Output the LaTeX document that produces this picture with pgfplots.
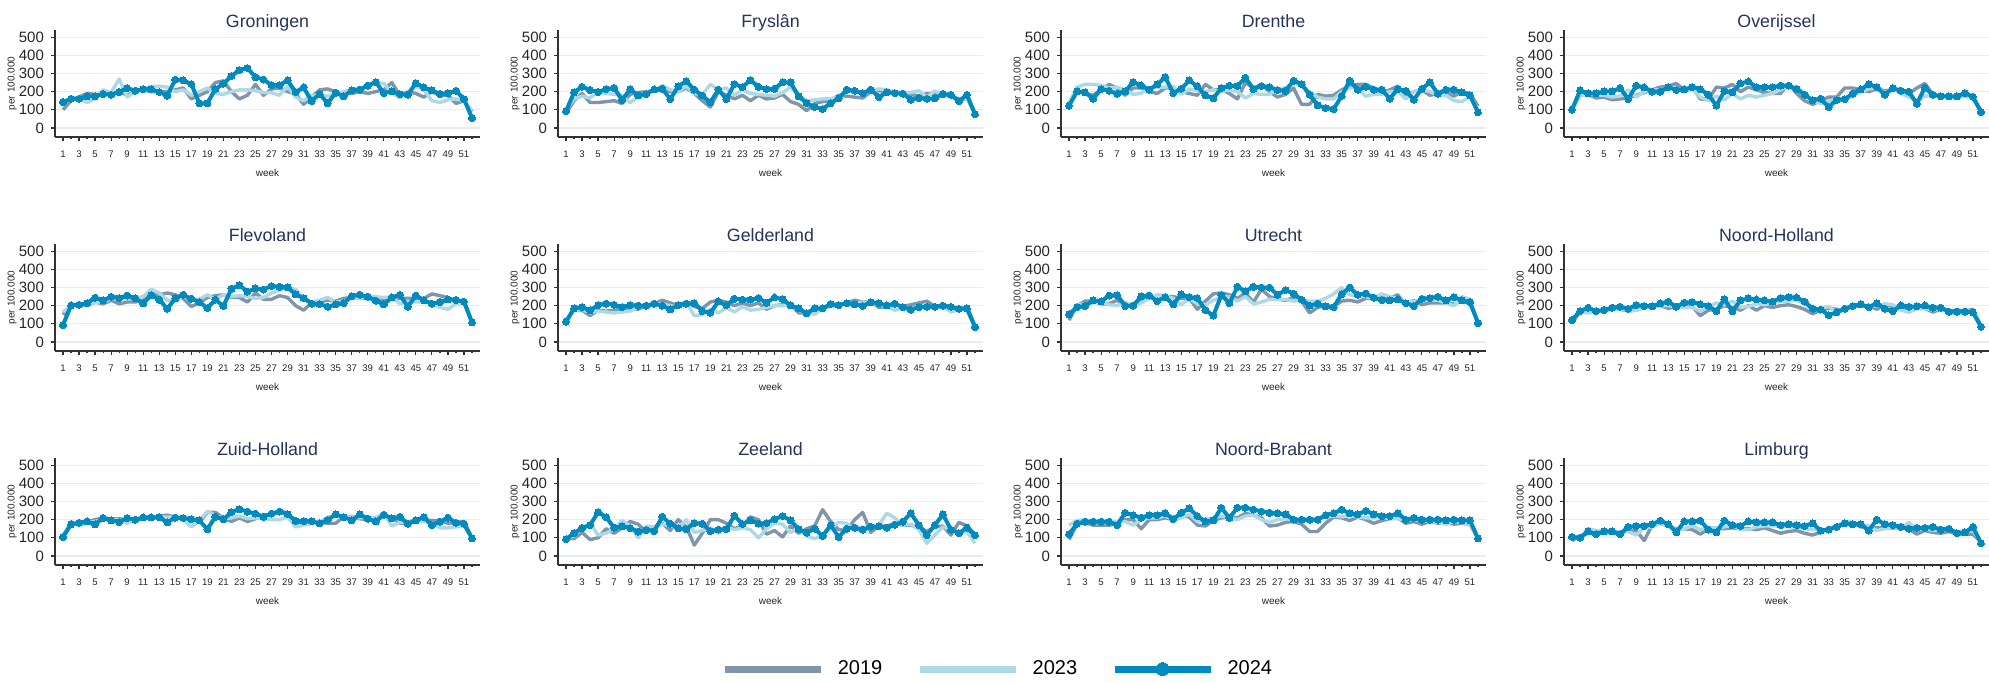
\documentclass[border=0pt]{standalone}
\usepackage{pgfplots}
\usepackage{pgfplotstable}
\pgfplotsset{compat=1.18}
\usepgfplotslibrary{groupplots}
\usepackage{fontspec}
\setmainfont{Liberation Sans}

\definecolor{c19}{RGB}{128,148,170}
\definecolor{c23}{RGB}{173,216,230}
\definecolor{c24}{RGB}{0,138,190}
\definecolor{ttl}{RGB}{38,52,92}
\definecolor{gridc}{RGB}{230,238,241}
\definecolor{axc}{RGB}{50,50,50}

% one row per province, one column per week
\pgfplotstableread{
p w1 w2 w3 w4 w5 w6 w7 w8 w9 w10 w11 w12 w13 w14 w15 w16 w17 w18 w19 w20 w21 w22 w23 w24 w25 w26 w27 w28 w29 w30 w31 w32 w33 w34 w35 w36 w37 w38 w39 w40 w41 w42 w43 w44 w45 w46 w47 w48 w49 w50 w51 w52
Gr 100 150 170 190 185 185 190 200 180 200 210 200 200 200 210 220 160 180 200 250 260 200 160 180 240 180 215 220 200 190 130 170 210 215 200 190 190 200 190 200 210 250 180 200 190 170 200 180 180 135 150 90
Fr 80 150 190 140 140 145 150 135 185 195 200 205 205 200 200 220 190 150 115 200 180 160 180 150 180 160 165 185 145 130 95 135 145 150 180 175 170 165 200 205 200 195 190 185 175 190 190 180 175 150 165 80
Dr 130 200 190 180 210 240 220 180 220 220 200 190 220 220 200 190 180 240 210 210 190 160 250 220 240 200 170 185 220 130 130 185 175 180 210 230 240 240 220 190 210 230 180 200 210 180 190 200 175 200 190 120
Ov 100 190 185 165 170 155 160 165 180 195 210 225 230 245 210 225 160 155 225 220 240 200 225 210 195 190 190 245 190 150 130 150 170 170 220 220 210 200 215 205 210 205 190 220 245 185 175 175 165 185 165 95
Fl 150 200 210 200 220 210 230 210 220 220 230 260 260 270 260 240 195 215 245 255 260 245 245 220 270 235 235 255 245 200 175 215 220 230 225 240 245 240 240 235 230 240 240 240 240 240 265 255 245 225 230 110
Ge 110 180 175 145 175 170 175 180 185 180 200 210 230 215 200 220 195 185 220 230 220 200 215 200 215 180 200 205 205 160 160 155 190 200 205 215 230 220 225 190 195 205 195 205 215 225 195 195 185 175 195 90
Ut 120 200 225 225 210 210 230 200 210 230 250 230 250 250 240 240 180 225 265 270 260 240 270 220 290 250 235 230 245 225 160 190 200 195 225 230 220 240 245 250 240 260 200 230 205 215 215 215 210 225 210 110
NH 105 165 170 170 175 180 180 170 175 190 195 200 185 195 200 195 145 175 180 200 190 175 200 175 200 190 200 205 195 180 155 175 185 180 175 195 200 200 180 205 195 195 165 185 185 165 180 170 175 170 180 90
ZH 115 175 180 190 200 210 205 205 200 200 205 210 220 225 215 205 200 185 240 240 210 190 210 190 205 225 230 240 240 175 175 185 185 180 180 215 215 205 200 205 220 210 180 180 205 200 195 195 180 185 190 100
Ze 100 95 130 90 100 150 125 155 190 175 130 160 180 140 200 160 60 125 200 200 180 150 165 215 200 120 140 105 165 125 150 165 255 190 145 140 200 240 130 165 165 180 170 170 160 135 160 165 115 185 165 120
NB 90 175 185 170 170 170 175 200 200 150 200 200 210 200 220 215 170 165 195 210 215 210 235 225 210 165 170 185 190 175 135 135 180 215 210 195 215 200 180 195 205 210 180 190 175 190 180 185 175 180 175 95
Li 85 110 125 125 130 130 125 140 140 85 170 180 165 150 150 145 120 150 150 150 155 150 150 145 155 140 125 135 140 125 115 130 150 165 180 185 160 160 155 155 155 155 150 120 140 130 125 135 120 120 120 75
}\rawA

\pgfplotstableread{
p w1 w2 w3 w4 w5 w6 w7 w8 w9 w10 w11 w12 w13 w14 w15 w16 w17 w18 w19 w20 w21 w22 w23 w24 w25 w26 w27 w28 w29 w30 w31 w32 w33 w34 w35 w36 w37 w38 w39 w40 w41 w42 w43 w44 w45 w46 w47 w48 w49 w50 w51 w52
Gr 140 160 165 140 160 210 195 270 170 200 210 230 230 225 200 210 180 200 220 190 185 200 210 210 205 195 195 180 230 170 150 180 180 175 190 200 210 220 230 250 245 195 165 200 230 210 150 140 155 160 150 95
Fr 100 160 175 165 200 190 185 180 140 170 200 205 235 210 200 230 190 185 240 210 220 180 210 190 185 180 175 195 225 180 150 155 160 160 175 200 205 195 205 215 210 200 195 195 205 170 205 180 180 160 165 90
Dr 140 225 240 240 235 220 225 210 185 190 220 225 225 230 185 215 205 200 210 200 210 200 165 190 185 185 215 220 250 230 200 170 160 160 200 220 220 175 185 185 200 200 160 200 210 200 180 180 150 145 175 100
Ov 100 175 190 180 180 170 175 210 170 200 210 210 220 220 200 215 170 150 175 155 190 160 180 170 180 190 210 230 230 190 150 135 145 165 155 175 200 215 220 195 215 190 170 150 175 180 180 170 165 175 160 95
Fl 165 200 200 210 215 220 240 235 240 240 250 290 270 230 225 255 230 235 260 235 260 250 255 250 240 245 270 285 300 290 240 220 230 245 220 225 240 240 250 250 245 250 210 225 220 220 215 190 180 210 215 105
Ge 105 180 180 160 170 165 160 165 170 190 200 210 210 200 190 215 145 150 180 160 190 165 195 175 180 190 200 200 200 175 165 155 185 195 200 210 215 220 220 205 195 175 185 185 195 200 190 195 165 180 175 85
Ut 140 205 210 215 220 205 200 220 195 215 240 260 255 240 205 240 210 205 230 245 250 225 250 210 220 235 235 235 225 230 225 225 240 265 300 260 255 250 240 265 250 240 215 225 230 230 230 215 200 250 235 110
NH 120 165 160 165 170 180 180 175 175 190 195 200 200 195 190 190 170 195 215 205 225 190 195 210 205 215 225 225 230 210 175 185 195 165 185 205 200 195 200 210 205 175 165 185 185 175 185 160 155 165 175 90
ZH 110 190 165 185 190 200 200 200 180 200 210 215 215 215 215 200 160 195 245 225 205 210 220 205 210 205 200 200 215 160 170 180 185 215 220 210 220 210 215 210 240 165 185 190 195 190 180 155 155 160 165 100
Ze 100 110 155 180 115 125 150 195 165 100 165 160 175 165 155 200 130 140 155 125 160 145 155 145 100 150 180 175 130 155 110 95 115 150 185 180 140 160 155 170 235 210 170 175 145 70 115 160 145 125 135 70
NB 170 195 200 185 180 185 190 190 170 200 210 210 220 200 210 230 190 200 210 220 210 200 220 225 200 185 200 205 200 195 195 205 215 220 215 225 215 210 210 215 205 205 200 200 195 190 185 175 190 185 175 100
Li 105 100 150 140 140 130 135 135 115 155 160 180 170 145 150 165 145 155 155 160 170 145 145 160 165 165 165 160 160 150 145 145 145 165 190 185 175 165 140 150 160 150 185 145 155 140 145 145 135 135 140 75
}\rawB

\pgfplotstableread{
p w1 w2 w3 w4 w5 w6 w7 w8 w9 w10 w11 w12 w13 w14 w15 w16 w17 w18 w19 w20 w21 w22 w23 w24 w25 w26 w27 w28 w29 w30 w31 w32 w33 w34 w35 w36 w37 w38 w39 w40 w41 w42 w43 w44 w45 w46 w47 w48 w49 w50 w51 w52
Gr 143 161 161 174 174 187 183 198 220 205 214 214 198 178 266 262 242 136 136 214 244 286 319 330 280 267 236 236 262 198 223 148 187 136 194 174 207 211 233 253 192 201 187 183 247 223 207 187 192 205 159 55
Fr 92 196 227 209 198 214 220 154 214 179 187 212 216 159 229 258 211 178 141 211 159 242 225 264 227 214 216 251 251 174 137 115 104 137 163 211 205 192 211 170 196 192 189 156 165 161 163 187 183 148 183 75
Dr 123 201 196 161 214 205 189 201 253 234 211 240 280 192 216 262 229 179 163 220 233 231 277 214 231 225 209 205 260 242 183 125 110 104 176 260 211 227 211 211 161 214 205 156 216 251 189 211 211 196 179 86
Ov 101 207 190 190 201 201 220 159 233 223 200 200 225 209 212 225 214 183 123 203 196 245 256 225 225 225 233 233 214 183 152 161 115 154 159 189 212 242 225 183 220 205 200 134 222 183 174 174 174 192 172 88
Fl 93 201 205 214 244 229 249 242 256 240 212 258 233 183 240 260 238 220 187 233 198 293 313 277 295 289 308 304 302 262 242 211 209 194 207 214 253 260 249 227 207 245 260 194 256 229 211 220 234 231 222 108
Ge 112 185 192 174 203 211 205 192 203 200 200 211 200 179 203 211 214 170 161 223 203 238 233 233 242 216 245 236 201 185 158 185 185 209 203 214 207 198 218 214 201 211 192 178 192 194 194 200 194 183 185 82
Ut 152 192 198 229 223 256 258 198 200 251 256 225 247 207 262 247 242 176 145 258 214 304 280 304 300 300 260 286 266 233 200 211 196 192 264 300 260 267 244 231 229 234 214 198 238 242 249 229 247 229 220 104
NH 121 170 189 170 176 189 194 183 203 198 196 212 222 194 216 220 207 198 170 236 168 229 240 234 229 222 242 247 245 222 183 178 148 163 183 198 207 192 214 183 170 201 194 196 201 189 189 167 167 167 163 84
ZH 104 174 183 190 174 209 196 187 209 200 212 212 214 185 211 209 203 196 147 216 201 242 258 244 233 216 234 245 231 194 192 192 179 198 229 214 196 229 205 190 227 207 216 178 196 214 170 189 211 183 178 97
Ze 92 126 154 170 242 214 156 163 154 134 143 137 216 178 152 148 181 178 137 145 148 222 176 196 178 181 203 220 196 148 128 150 110 170 104 150 156 145 161 163 156 172 189 236 170 115 170 229 145 126 156 114
NB 120 178 189 189 189 189 170 238 225 211 225 225 236 203 238 262 220 190 196 265 210 266 266 256 245 238 235 230 200 200 200 200 225 235 255 235 230 248 230 220 220 235 200 210 200 200 200 196 200 196 196 97
Li 105 100 135 120 135 135 120 160 165 165 175 195 175 130 190 190 195 145 130 195 170 165 190 185 185 185 170 175 170 165 180 140 145 160 180 175 175 140 200 175 170 160 150 155 155 160 145 150 125 130 160 70
}\rawC

% weeks as rows, provinces as columns
\pgfplotstabletranspose[colnames from=p]\tA{\rawA}
\pgfplotstabletranspose[colnames from=p]\tB{\rawB}
\pgfplotstabletranspose[colnames from=p]\tC{\rawC}

\pgfplotsset{
  s19/.style={c19, line width=1.7pt, line join=round, no markers},
  s23/.style={c23, line width=1.7pt, line join=round, no markers},
  s24/.style={c24, line width=2pt, line join=round, mark=*, mark size=1.75pt, mark options={solid, fill=c24, draw=c24, line width=0pt}},
  legline/.style={legend image code/.code={\draw[line width=3.5pt] (0pt,0pt) -- (48pt,0pt);}},
}

\newcommand\prov[2]{%
  \nextgroupplot[title={#2}]
  \addplot[s19] table[x expr=\coordindex+1, y=#1]{\tA};
  \addplot[s23] table[x expr=\coordindex+1, y=#1]{\tB};
  \addplot[s24] table[x expr=\coordindex+1, y=#1]{\tC};
}

\begin{document}
\begin{tikzpicture}
\begin{groupplot}[
  group style={group size=4 by 3, horizontal sep=39pt, vertical sep=53.5pt},
  scale only axis, width=212.5pt, height=53.5pt,
  xmin=0, xmax=53, ymin=-50, ymax=540,
  ytick={0,100,...,500},
  xtick={1,3,...,51}, minor xtick={2,4,...,52},
  axis lines*=left,
  axis line style={axc, line width=0.7pt},
  tick align=outside, major tick length=2pt, minor tick length=1.2pt,
  tick style={axc, line width=0.6pt},
  ymajorgrids, grid style={gridc, line width=0.6pt},
  /pgf/number format/assume math mode=true,
  yticklabel style={font=\fontsize{7.5}{8}\selectfont, color=black!85},
  xticklabel style={font=\fontsize{4.8}{5.5}\selectfont, color=black!85, yshift=-1.5pt},
  every axis title shift=0pt,
  title style={font=\fontsize{8.9}{10}\selectfont, color=ttl, at={(0.5,1)}, anchor=base, yshift=1.1pt},
  xlabel=week, ylabel={per 100.000},
  xlabel style={font=\fontsize{5}{6}\selectfont, color=black!85, at={(axis description cs:0.5,0)}, anchor=base, yshift=-19.75pt},
  ylabel style={font=\fontsize{5}{6}\selectfont, color=black!85, at={(axis description cs:-0.101,0.5)}, anchor=center},
]
\prov{Gr}{Groningen}
\prov{Fr}{Fryslân}
\prov{Dr}{Drenthe}
\prov{Ov}{Overijssel}
\prov{Fl}{Flevoland}
\prov{Ge}{Gelderland}
\prov{Ut}{Utrecht}
\prov{NH}{Noord-Holland}

\nextgroupplot[title={Zuid-Holland},
  legend columns=3,
  legend style={at={(1.567,-0.972)}, anchor=west, draw=none, fill=none,
    font=\fontsize{10}{11}\selectfont, inner sep=0pt,
    /tikz/every even column/.append style={column sep=15pt},
    /tikz/every odd column/.append style={column sep=4.7pt}},
  legend cell align=left]
\addplot[s19, legline] table[x expr=\coordindex+1, y=ZH]{\tA};
\addlegendentry{2019}
\addplot[s23, legline] table[x expr=\coordindex+1, y=ZH]{\tB};
\addlegendentry{2023}
\addplot[s24, legend image code/.code={\draw[line width=3.5pt, mark size=3.2pt, mark repeat=2, mark phase=2] plot coordinates {(0pt,0pt) (24pt,0pt) (48pt,0pt)};}]
  table[x expr=\coordindex+1, y=ZH]{\tC};
\addlegendentry{2024}

\prov{Ze}{Zeeland}
\prov{NB}{Noord-Brabant}
\prov{Li}{Limburg}
\end{groupplot}
\pgfresetboundingbox
\path[use as bounding box] ([xshift=-27.5pt,yshift=68.5pt]group c1r1.south west) rectangle ++(994.5pt,-341.5pt);
\end{tikzpicture}
\end{document}
